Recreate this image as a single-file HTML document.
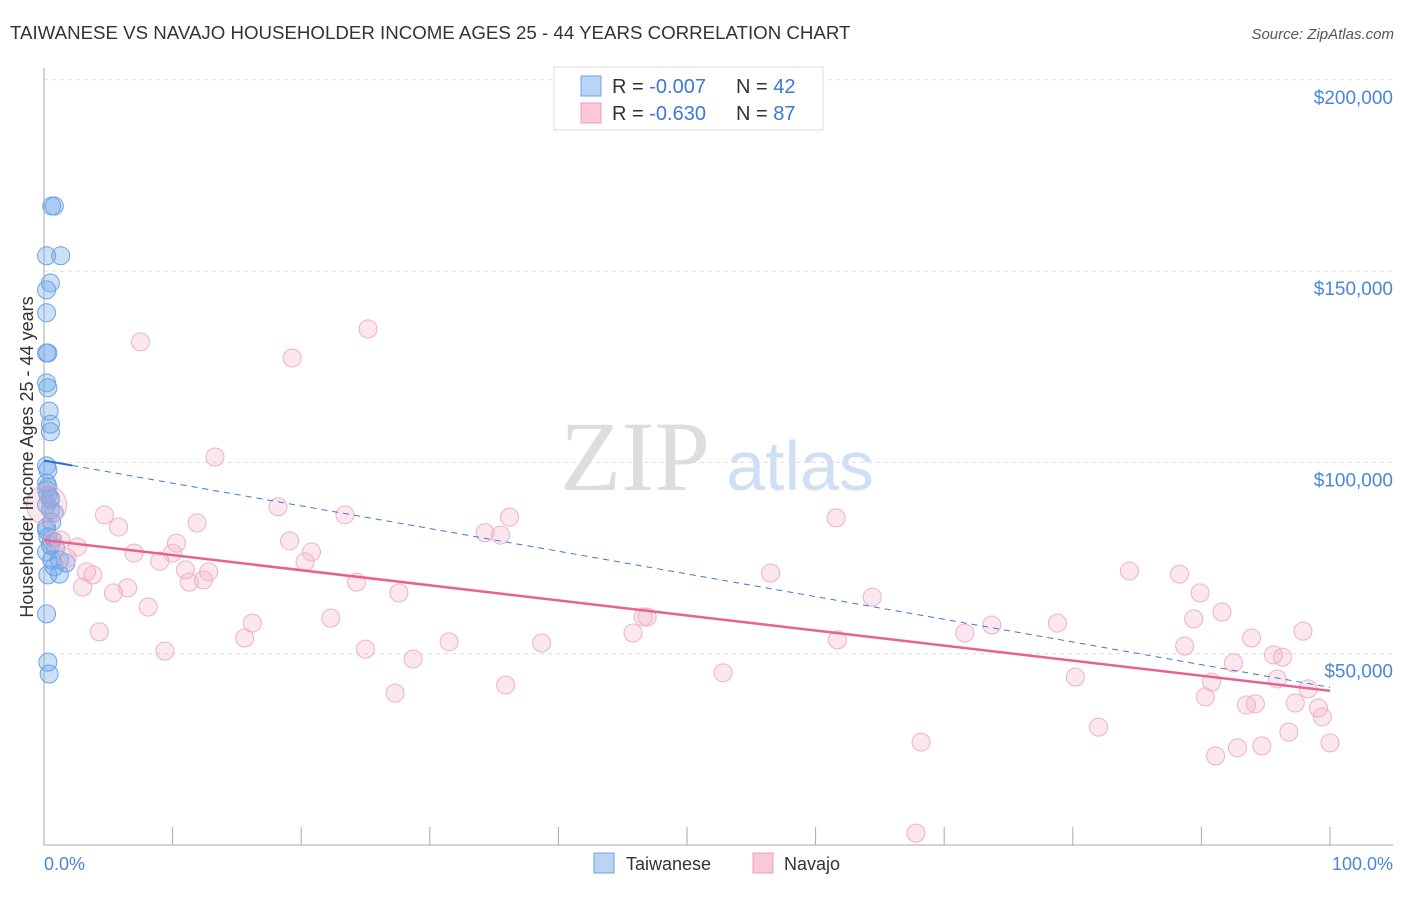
<!DOCTYPE html>
<html><head><meta charset="utf-8"><style>
body{margin:0;background:#fff;font-family:"Liberation Sans",sans-serif;}
</style></head><body>
<svg id="chart" width="1406" height="892" xmlns="http://www.w3.org/2000/svg">
<text x="10" y="39" font-size="18.7" fill="#333">TAIWANESE VS NAVAJO HOUSEHOLDER INCOME AGES 25 - 44 YEARS CORRELATION CHART</text>
<text x="1394" y="39" font-size="15" fill="#555" font-style="italic" text-anchor="end">Source: ZipAtlas.com</text>
<g><text x="635" y="490" font-size="100" fill="#ddd" text-anchor="middle" font-family="Liberation Serif,serif">ZIP</text><text x="800" y="490" font-size="70" fill="#cfe0f5" text-anchor="middle">atlas</text></g>
<g id="grid"></g><g id="axes"></g><g id="marks"></g>
<text transform="translate(33,457) rotate(-90)" font-size="18" fill="#333" text-anchor="middle">Householder Income Ages 25 - 44 years</text>
<text x="44" y="870" font-size="18" fill="#4a86d8">0.0%</text>
<text x="1393" y="870" font-size="18" fill="#4a86d8" text-anchor="end">100.0%</text>
<g>
<rect x="554" y="67" width="269" height="63" fill="#fff" stroke="#ddd"/>
<rect x="581" y="76" width="20" height="20" fill="#b9d4f5" stroke="#6aa3e8"/>
<rect x="581" y="103" width="20" height="20" fill="#fac8d8" stroke="#eba0b8"/>
<text x="612" y="93" font-size="20" fill="#333">R = <tspan fill="#3b78d8">-0.007</tspan></text>
<text x="736" y="93" font-size="20" fill="#333">N = <tspan fill="#3b78d8">42</tspan></text>
<text x="612" y="120" font-size="20" fill="#333">R = <tspan fill="#3b78d8">-0.630</tspan></text>
<text x="736" y="120" font-size="20" fill="#333">N = <tspan fill="#3b78d8">87</tspan></text>
</g>
<g>
<rect x="594" y="853" width="20" height="20" fill="#b9d4f5" stroke="#6aa3e8"/>
<text x="626" y="870" font-size="18" fill="#333">Taiwanese</text>
<rect x="753" y="853" width="20" height="20" fill="#fac8d8" stroke="#eba0b8"/>
<text x="784" y="870" font-size="18" fill="#333">Navajo</text>
</g>
</svg>
<script>
const yTicks=[50000,100000,150000,200000];
const yTickLabels=["$50,000","$100,000","$150,000","$200,000"];
const blueX=[0.6,0.8,0.2,1.3,0.5,0.2,0.2,0.2,0.3,0.2,0.3,0.4,0.5,0.5,0.2,0.3,0.2,0.3,0.3,0.5,0.5,0.8,0.6,0.2,0.3,0.5,0.9,0.2,0.6,1.2,0.8,1.7,0.3,1.2,0.2,0.3,0.4,0.2,0.6,0.2,0.5,0.2];
const blueY=[167,167,154,154,146.9,145.1,139.1,128.6,128.6,120.8,119.5,113.4,110,108,99.1,98,94.6,93.6,91.5,90.2,87.6,86.8,84.4,83.1,80.5,78.4,77.6,76.6,74.5,74.5,72.7,73.7,70.6,70.8,60.4,47.8,44.7,82.3,79.7,88.9,90.7,92.8];
const pinkX=[7.5,25.2,19.3,13.3,4.7,5.8,11.9,18.2,23.4,36.2,34.3,35.5,61.6,2.6,1.3,7.0,10.3,10.0,9.0,19.1,20.8,20.3,3.3,3.8,1.8,11.0,12.8,11.3,12.4,3.0,5.4,6.5,8.1,24.3,27.6,16.2,22.3,4.3,15.6,9.4,25.0,28.7,31.5,38.7,45.8,46.6,46.9,56.5,64.4,61.7,71.6,73.7,78.8,84.4,88.3,89.9,91.6,89.4,88.7,92.5,93.9,95.6,96.3,97.9,95.9,98.3,90.8,90.3,93.5,94.2,97.3,99.1,99.4,96.8,92.8,94.7,91.1,100,68.2,82.0,80.2,52.8,35.9,27.3,67.8,0.7,0.2];
const pinkY=[131.5,134.9,127.3,101.4,86.3,83.1,84.2,88.4,86.3,85.7,81.6,81.0,85.5,77.9,79.7,76.3,78.9,76.3,74.2,79.5,76.6,74.0,71.4,70.6,75.0,71.9,71.4,68.7,69.3,67.4,65.9,67.2,62.2,68.7,65.9,58.0,59.3,55.7,54.1,50.7,51.2,48.6,53.1,52.8,55.4,59.6,59.6,71.1,64.8,53.6,55.4,57.5,58.0,71.6,70.8,65.9,60.9,59.1,52.0,47.6,54.1,49.7,49.1,55.9,43.4,40.8,42.6,38.7,36.6,36.9,37.1,35.8,33.5,29.5,25.4,25.9,23.3,26.7,26.9,30.8,43.9,45.0,41.8,39.7,3.1,79.7,88.9];
const blueTrend=[100.5,41.2];
const pinkTrend=[79.7,40.3];
const NS="http://www.w3.org/2000/svg";
const X=p=>44+p*12.86, Y=k=>845-k*1000*191.3/50000;
function mk(tag,attrs,parent){const e=document.createElementNS(NS,tag);for(const k in attrs)e.setAttribute(k,attrs[k]);document.getElementById(parent).appendChild(e);return e;}
yTicks.forEach((v,i)=>{
 let l=mk('line',{x1:44,x2:1393,y1:Y(v/1000),y2:Y(v/1000),stroke:'#ddd','stroke-dasharray':'4,4'},'grid');
 
 
 let t=mk('text',{x:1393,y:Y(v/1000)+24,'font-size':19,fill:'#4a86d8','text-anchor':'end','font-family':'Liberation Sans,sans-serif'},'grid');
 t.textContent=yTickLabels[i];
 
 
});
mk('line',{x1:44,x2:44,y1:68,y2:845,stroke:'#aaa'},'axes');
mk('line',{x1:44,x2:1393,y1:845,y2:845,stroke:'#aaa'},'axes');
for(let i=0;i<=10;i++){mk('line',{x1:X(i*10),x2:X(i*10),y1:827,y2:845,stroke:'#aaa'},'axes');}
blueX.forEach((x,i)=>{
 let c=mk('circle',{cx:X(x),cy:Y(blueY[i]),r:9,fill:'rgba(110,165,232,0.35)',stroke:'#6aa3e8','stroke-width':1},'marks');
 
 
});
pinkX.forEach((x,i)=>{
 let c=mk('circle',{cx:X(x),cy:Y(pinkY[i]),r:(i==pinkX.length-1?20:9),fill:'rgba(245,170,196,0.28)',stroke:'#efb0c5','stroke-width':1},'marks');
 
 
});
const bAt=p=>blueTrend[0]+(blueTrend[1]-blueTrend[0])*p/100;
let bd=mk('line',{x1:X(2.2),y1:Y(bAt(2.2)),x2:X(100),y2:Y(bAt(100)),stroke:'#3b78d8','stroke-width':1,'stroke-dasharray':'6,5'},'marks');


let bs=mk('line',{x1:X(0),y1:Y(bAt(0)),x2:X(2.2),y2:Y(bAt(2.2)),stroke:'#2a6fd6','stroke-width':2},'marks');


let pl=mk('line',{x1:X(0),y1:Y(pinkTrend[0]),x2:X(100),y2:Y(pinkTrend[1]),stroke:'#e8628f','stroke-width':2.5},'marks');


</script>
</body></html>
